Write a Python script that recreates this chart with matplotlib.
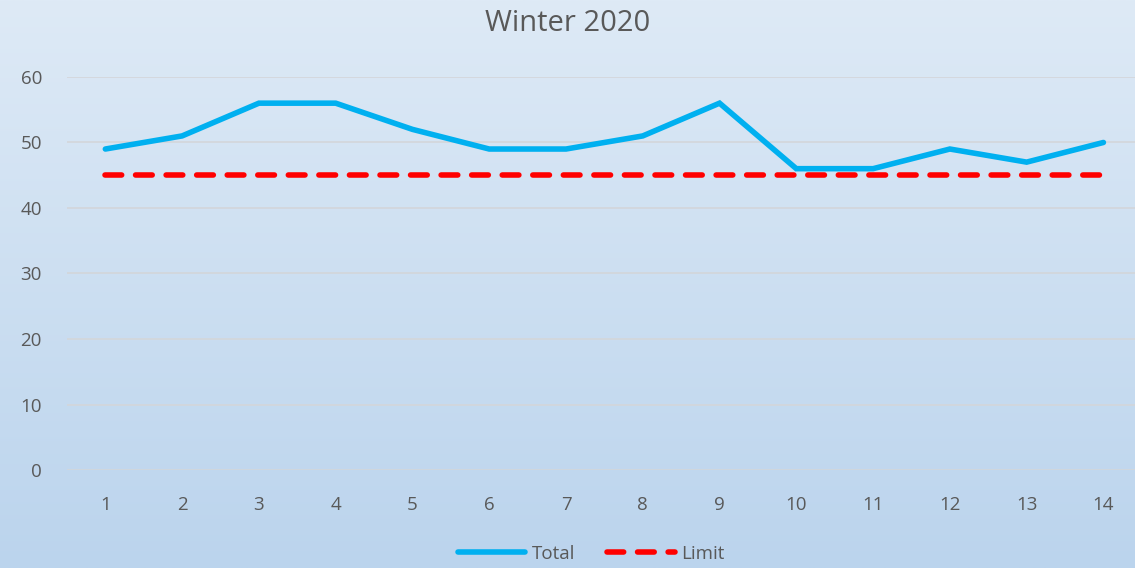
import matplotlib.pyplot as plt
import numpy as np

days = list(range(1, 15))
total = [49, 51, 56, 56, 52, 49, 49, 51, 56, 46, 46, 49, 47, 50]
limit = [45] * 14
yticks = [0, 10, 20, 30, 40, 50, 60]

plt.rcParams['font.family'] = ['Open Sans', 'DejaVu Sans']

fig = plt.figure(figsize=(11.35, 5.68), dpi=100)

# gradient background over the whole figure
bg = fig.add_axes([0, 0, 1, 1], zorder=0)
top = np.array([0xde, 0xea, 0xf6]) / 255
bottom = np.array([0xbb, 0xd4, 0xed]) / 255
t = np.linspace(0, 1, 256)[:, None]
grad = top * (1 - t) + bottom * t
bg.imshow(grad[:, None, :].repeat(2, axis=1), aspect='auto', extent=[0, 1, 0, 1])
bg.axis('off')

ax = fig.add_axes([0.059, 0.1725, 0.947, 0.692], zorder=1)
ax.patch.set_alpha(0)

ax.plot(days, total, color='#00b0f0', lw=4.0, label='Total', solid_capstyle='round',
        solid_joinstyle='miter')
ax.plot(days, limit, color='#ff0000', lw=4.0, ls=(0, (3.0, 2.5)), label='Limit',
        dash_capstyle='round')

ax.set_xlim(0.5, 14.5)
ax.set_ylim(0, 60)
ax.set_yticks(yticks)
ax.set_xticks(days)
ax.grid(axis='y', color='#d3d6da', lw=1.2)
ax.set_axisbelow(True)
for s in ax.spines.values():
    s.set_visible(False)
ax.tick_params(length=0, labelsize=13.5, colors='#595959')
ax.tick_params(axis='x', pad=19)
ax.tick_params(axis='y', pad=18)

fig.text(0.5, 0.958, 'Winter 2020', fontsize=21, color='#595959', ha='center', va='center')
fig.legend(loc='center', bbox_to_anchor=(0.521, 0.025), ncol=2, frameon=False,
           fontsize=13.5, labelcolor='#595959', handlelength=3.6, columnspacing=1.7,
           handletextpad=0.35, borderpad=0)

plt.savefig('out.png', dpi=100)
